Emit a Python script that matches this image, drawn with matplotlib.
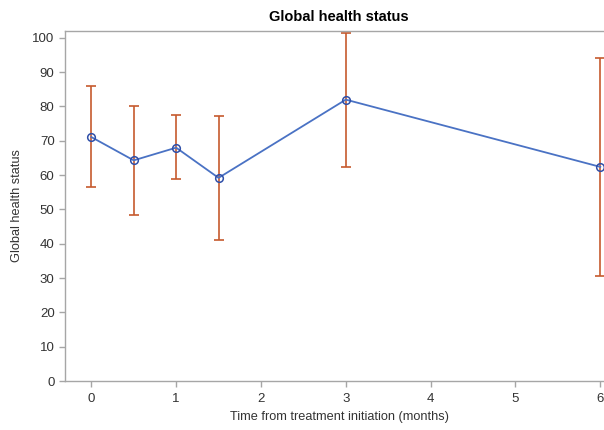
import matplotlib.pyplot as plt

# time points (months) and global health status summary
months = [0, 0.5, 1, 1.5, 3, 6]
mean_score = [71.1, 64.3, 68.0, 59.2, 82.0, 62.4]
lower = [56.4, 48.4, 58.9, 41.2, 62.4, 30.7]
upper = [86.0, 80.0, 77.4, 77.1, 101.4, 94.2]
x_ticks = [0, 1, 2, 3, 4, 5, 6]
y_ticks = [0, 10, 20, 30, 40, 50, 60, 70, 80, 90, 100]

plt.rcParams['font.family'] = ['Liberation Sans', 'DejaVu Sans']

fig = plt.figure(figsize=(6.04, 4.30), dpi=100)
ax = fig.add_axes([65 / 604, 1 - 381 / 430, 548 / 604, 350 / 430])

err_low = [m - l for m, l in zip(mean_score, lower)]
err_high = [u - m for m, u in zip(mean_score, upper)]
ax.errorbar(months, mean_score, yerr=[err_low, err_high], fmt='none',
            ecolor='#C65A2E', elinewidth=1.2, capsize=3.6, capthick=1.2, zorder=2)
ax.plot(months, mean_score, color='#4A72C4', lw=1.3, marker='o', ms=5.5,
        mfc='none', mec='#2F4FA8', mew=1.1, zorder=3)

ax.set_xlim(-0.31, 6.15)
ax.set_ylim(0, 102)
ax.set_xticks(x_ticks)
ax.set_yticks(y_ticks)

ax.set_title('Global health status', fontsize=10.5, fontweight='bold', pad=7)
ax.set_xlabel('Time from treatment initiation (months)', fontsize=9.2, color='#333333', labelpad=4)
ax.set_ylabel('Global health status', fontsize=9.2, color='#333333', labelpad=7)

for side in ['left', 'bottom', 'top']:
    ax.spines[side].set_color('#A6A6A6')
    ax.spines[side].set_linewidth(1.0)
ax.spines['right'].set_visible(False)
ax.tick_params(axis='both', colors='#A6A6A6', labelcolor='#333333', labelsize=9.5,
               length=4, width=1)
ax.tick_params(axis='x', pad=5)

fig.savefig('out.png', dpi=100)
